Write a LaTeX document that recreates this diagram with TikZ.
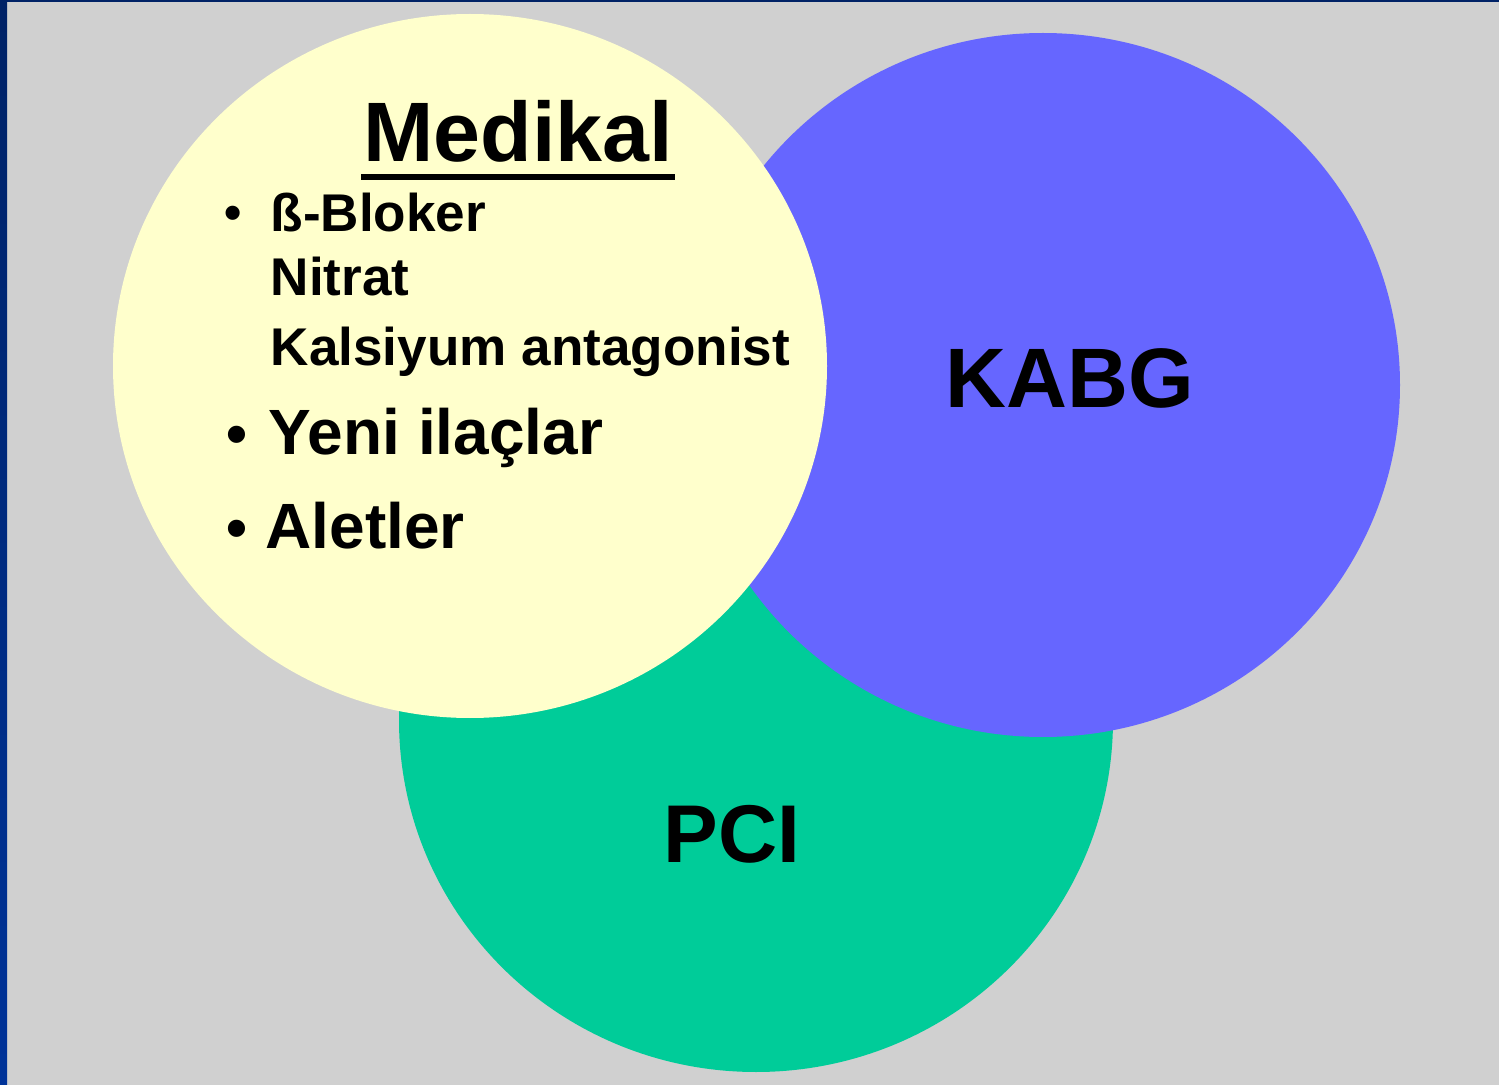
\documentclass[tikz,border=0pt]{standalone}
\usepackage{fontspec}
\setmainfont{Liberation Sans}
\usetikzlibrary{calc}
\definecolor{bggray}{HTML}{D0D0D0}
\definecolor{medyellow}{HTML}{FFFFCC}
\definecolor{kabgblue}{HTML}{6666FF}
\definecolor{pcigreen}{HTML}{00CC99}
\definecolor{frametop}{HTML}{002266}
\definecolor{framebot}{HTML}{003399}
\tikzset{
  bigtitle/.style={font=\bfseries\fontsize{24}{28}\selectfont, inner sep=0pt},
  smallitem/.style={font=\bfseries\fontsize{15.1}{18}\selectfont, inner sep=0pt, anchor=base west},
  miditem/.style={font=\bfseries\fontsize{18.2}{21}\selectfont, inner sep=0pt, anchor=base west},
  bulletmark/.style={inner sep=0pt, anchor=base west}
}
\begin{document}
\begin{tikzpicture}[x=0.01cm,y=-0.01cm]
  \useasboundingbox (0,0) rectangle (1499,1085);
  % Hintergrund und Rand
  \fill[bggray] (0,0) rectangle (1499,1085);
  \shade[top color=frametop,bottom color=framebot] (0,0) rectangle (7,1085);
  \fill[frametop] (0,0) rectangle (1499,2);
  % Kreise
  \fill[pcigreen] (756,720) ellipse [x radius=357, y radius=352];
  \fill[kabgblue] (1043,385) ellipse [x radius=357, y radius=352];
  \fill[medyellow] (470,366) ellipse [x radius=357, y radius=352];
  % Texte
  \node[bigtitle, anchor=base] (medikal) at (518,162) {Medikal};
  \fill ($(medikal.base west)+(-2,12)$) rectangle ($(medikal.base east)+(2,18)$);
  \node[bulletmark, font=\bfseries\fontsize{14}{18}\selectfont] (b1) at (224,230) {•};
  \node[smallitem] (bloker) at (270,232) {ß-Bloker};
  \node[smallitem] (nitrat) at (270,296) {Nitrat};
  \node[smallitem] (kalsiyum) at (270,366) {Kalsiyum antagonist};
  \node[bulletmark, font=\bfseries\fontsize{17}{21}\selectfont] (b2) at (226,455) {•};
  \node[miditem] (yeni) at (268,455) {Yeni ilaçlar};
  \node[bulletmark, font=\bfseries\fontsize{17}{21}\selectfont] (b3) at (226,548) {•};
  \node[miditem] (aletler) at (265,548) {Aletler};
  \node[bigtitle, font=\bfseries\fontsize{24}{28}\selectfont, anchor=base] (kabg) at (1070,408) {KABG};
  \node[bigtitle, font=\bfseries\fontsize{23.3}{28}\selectfont, anchor=base] (pci) at (732,862) {PCI};
\end{tikzpicture}
\end{document}
